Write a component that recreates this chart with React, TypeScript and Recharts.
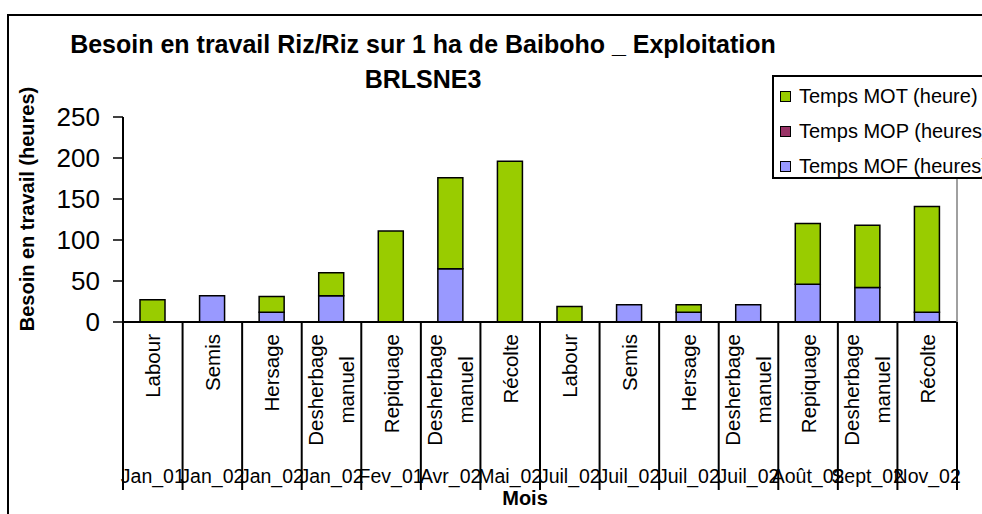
import { BarChart, Bar, XAxis, YAxis, CartesianGrid, Legend } from 'recharts';

const activities = [
  'Labour', 'Semis', 'Hersage', 'Desherbage manuel', 'Repiquage', 'Desherbage manuel', 'Récolte',
  'Labour', 'Semis', 'Hersage', 'Desherbage manuel', 'Repiquage', 'Desherbage manuel', 'Récolte',
];
const months = [
  'Jan_01', 'Jan_02', 'Jan_02', 'Jan_02', 'Fev_01', 'Avr_02', 'Mai_02',
  'Juil_02', 'Juil_02', 'Juil_02', 'Juil_02', 'Août_02', 'Sept_02', 'Nov_02',
];
const mofValues = [0, 32, 12, 32, 0, 65, 0, 0, 21, 12, 21, 46, 42, 12];
const mopValues = [0, 0, 0, 0, 0, 0, 0, 0, 0, 0, 0, 0, 0, 0];
const motValues = [27, 0, 19, 28, 111, 111, 196, 19, 0, 9, 0, 74, 76, 129];
const yTicks = [0, 50, 100, 150, 200, 250];

const series = [
  { key: 'mot', name: 'Temps MOT (heure)', color: '#99CC00' },
  { key: 'mop', name: 'Temps MOP (heures)', color: '#993366' },
  { key: 'mof', name: 'Temps MOF (heures)', color: '#9999FF' },
];

const data = activities.map((a, i) => ({
  activity: a,
  month: months[i],
  mof: mofValues[i],
  mop: mopValues[i],
  mot: motValues[i],
}));

const FONT = '"Liberation Sans", Arial, sans-serif';
const W = 982;
const H = 514;
const Y_AXIS_W = 123;
const RIGHT_W = 25;
const X_AXIS_H = 192;
const BAND = (W - Y_AXIS_W - RIGHT_W) / activities.length;

let ctx: CanvasRenderingContext2D | null = null;
function textWidth(t: string, font: string) {
  if (!ctx) ctx = document.createElement('canvas').getContext('2d');
  if (!ctx) return t.length * 10;
  ctx.font = font;
  return ctx.measureText(t).width;
}

function CategoryTick(props: any) {
  const { x, y, payload } = props;
  const i = payload.index;
  const lines = String(payload.value).split(' ');
  const size = 20.5;
  const maxW = Math.max(...lines.map((l) => textWidth(l, `${size}px ${FONT}`)));
  const yc = y + 12 + maxW / 2;
  const offsets = lines.length > 1 ? [-16, 15] : [0];
  const bottom = y + 168;
  return (
    <g>
      <line x1={x - BAND / 2} x2={x - BAND / 2} y1={y} y2={bottom} stroke="#000" strokeWidth={2} />
      {i === activities.length - 1 && (
        <line x1={x + BAND / 2} x2={x + BAND / 2} y1={y} y2={bottom} stroke="#000" strokeWidth={2} />
      )}
      {lines.map((l, k) => (
        <text
          key={k}
          transform={`translate(${x + offsets[k]}, ${yc}) rotate(-90)`}
          textAnchor="middle"
          dominantBaseline="central"
          fontSize={size}
          fontFamily={FONT}
          fill="#000"
        >
          {l}
        </text>
      ))}
      <text x={x} y={y + 161} textAnchor="middle" fontSize={19.5} fontFamily={FONT} fill="#000">
        {months[i]}
      </text>
    </g>
  );
}

function LegendBox() {
  return (
    <div
      style={{
        width: 240,
        height: 104,
        border: '2px solid #000',
        background: '#fff',
        fontFamily: FONT,
        fontSize: 20,
        color: '#000',
        boxSizing: 'border-box',
      }}
    >
      {series.map((s) => (
        <div key={s.key} style={{ display: 'flex', alignItems: 'center', height: 35, marginTop: s.key === 'mot' ? 2 : 0 }}>
          <span
            style={{
              width: 9,
              height: 9,
              background: s.color,
              border: '1.5px solid #000',
              marginLeft: 6,
              marginRight: 8,
              flex: 'none',
            }}
          />
          <span style={{ whiteSpace: 'nowrap' }}>{s.name}</span>
        </div>
      ))}
    </div>
  );
}

export default function App() {
  return (
    <div style={{ position: 'relative', width: W, height: H, overflow: 'hidden', background: '#fff' }}>
      <style>{'body{margin:0}'}</style>
      <div
        style={{
          position: 'absolute',
          left: 7,
          top: 14,
          width: 1000,
          height: 540,
          border: '2px solid #000',
          boxSizing: 'border-box',
        }}
      />
      <div
        style={{
          position: 'absolute',
          left: 0,
          width: 846,
          top: 27,
          textAlign: 'center',
          fontFamily: FONT,
          fontWeight: 'bold',
          fontSize: 25,
          lineHeight: '35px',
          color: '#000',
        }}
      >
        Besoin en travail Riz/Riz sur 1 ha de Baiboho _ Exploitation
        <br />
        BRLSNE3
      </div>
      <div style={{ position: 'absolute', left: 0, top: 0 }}>
        <BarChart width={W} height={H} data={data} margin={{ top: 117, right: 0, bottom: 0, left: 0 }} barSize={25}>
          <CartesianGrid vertical={false} horizontalValues={[50, 100, 150, 200]} stroke="#000" strokeWidth={1.5} />
          <CartesianGrid vertical={false} horizontalValues={[250]} stroke="#808080" strokeWidth={1.5} />
          <XAxis
            dataKey="activity"
            height={X_AXIS_H}
            interval={0}
            tickLine={false}
            tickSize={0}
            tickMargin={0}
            axisLine={{ stroke: '#000', strokeWidth: 2 }}
            tick={<CategoryTick />}
            label={{
              content: () => (
                <text x={525} y={505} textAnchor="middle" fontSize={20} fontWeight="bold" fontFamily={FONT} fill="#000">
                  Mois
                </text>
              ),
            }}
          />
          <YAxis
            yAxisId="left"
            width={Y_AXIS_W}
            domain={[0, 250]}
            ticks={yTicks}
            tickSize={10}
            tickMargin={13}
            tickLine={{ stroke: '#000', strokeWidth: 1.5 }}
            axisLine={{ stroke: '#000', strokeWidth: 2 }}
            tick={{ fontSize: 26, fill: '#000', fontFamily: FONT }}
            label={{
              content: () => (
                <text
                  transform="translate(27, 209) rotate(-90)"
                  textAnchor="middle"
                  dominantBaseline="central"
                  fontSize={20}
                  fontWeight="bold"
                  fontFamily={FONT}
                  fill="#000"
                >
                  Besoin en travail (heures)
                </text>
              ),
            }}
          />
          <YAxis
            yAxisId="right"
            orientation="right"
            width={RIGHT_W}
            domain={[0, 250]}
            tick={false}
            tickLine={false}
            axisLine={{ stroke: '#808080', strokeWidth: 1.5 }}
          />
          <Legend
            layout="vertical"
            align="center"
            verticalAlign="middle"
            wrapperStyle={{ top: 75, left: 772, width: 240 }}
            content={() => <LegendBox />}
          />
          <Bar yAxisId="left" dataKey="mof" name="Temps MOF (heures)" stackId="a" fill="#9999FF" stroke="#000" strokeWidth={1.5} isAnimationActive={false} />
          <Bar yAxisId="left" dataKey="mop" name="Temps MOP (heures)" stackId="a" fill="#993366" stroke="#000" strokeWidth={1.5} isAnimationActive={false} />
          <Bar yAxisId="left" dataKey="mot" name="Temps MOT (heure)" stackId="a" fill="#99CC00" stroke="#000" strokeWidth={1.5} isAnimationActive={false} />
        </BarChart>
      </div>
    </div>
  );
}
